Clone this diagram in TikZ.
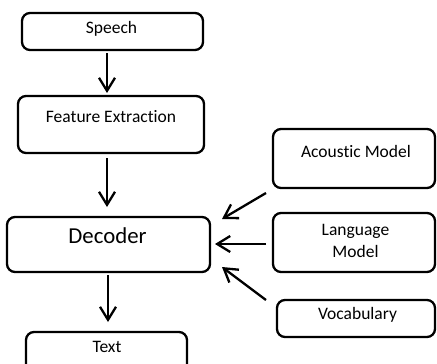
\documentclass[tikz,border=0pt]{standalone}
\usepackage{fontspec}
\setmainfont[Ligatures={NoCommon,NoRare,NoContextual}]{Carlito}
\usetikzlibrary{arrows.meta}
\tikzset{
  box/.style={draw=black, line width=2.3pt, rounded corners=8pt, fill=white, inner sep=0pt},
  lbl/.style={font=\fontsize{17.5}{21}\selectfont, inner sep=0pt, anchor=base},
  big/.style={font=\fontsize{22.8}{26}\selectfont, inner sep=0pt, anchor=base},
  arr/.style={line width=2.3pt, -{Straight Barb[length=13pt,width=16pt,line width=2.3pt]}}
}
\begin{document}
\begin{tikzpicture}[x=1pt,y=-1pt]
\clip (0,0) rectangle (437,364);
\fill[white] (0,0) rectangle (437,364);
% boxes
\node[box, minimum width=181pt, minimum height=37pt] (speech) at (112.5,31.5) {};
\node[box, minimum width=186pt, minimum height=57pt] (feat) at (111,124.5) {};
\node[box, minimum width=203pt, minimum height=55pt] (dec) at (108.5,244.5) {};
\node[box, minimum width=161pt, minimum height=60pt] (text) at (106.5,362) {};
\node[box, minimum width=162pt, minimum height=59pt] (ac) at (354,158.5) {};
\node[box, minimum width=162pt, minimum height=59pt] (lm) at (354,242.5) {};
\node[box, minimum width=158pt, minimum height=37pt] (voc) at (356,318.5) {};
% labels
\node[lbl] (tspeech) at (111.5,33.5) {Speech};
\node[lbl] (tfeat) at (111,122.5) {Feature Extraction};
\node[big] (tdec) at (107.5,243) {Decoder};
\node[lbl] (ttext) at (107,352) {Text};
\node[lbl] (tac) at (356,157.5) {Acoustic Model};
\node[lbl] (tlm1) at (355.5,235) {Language};
\node[lbl] (tlm2) at (355.5,257.5) {Model};
\node[lbl] (tvoc) at (357.5,319.5) {Vocabulary};
% arrow end points
\coordinate (a1s) at (107,53);  \coordinate (a1e) at (107,93);
\coordinate (a2s) at (107,158); \coordinate (a2e) at (107,207);
\coordinate (a3s) at (108,275); \coordinate (a3e) at (108,322);
\coordinate (a4s) at (266,193); \coordinate (a4e) at (222,219);
\coordinate (a5s) at (266,244); \coordinate (a5e) at (215,244);
\coordinate (a6s) at (266,300); \coordinate (a6e) at (222,267);
\draw[arr] (a1s) -- (a1e);
\draw[arr] (a2s) -- (a2e);
\draw[arr] (a3s) -- (a3e);
\draw[arr] (a4s) -- (a4e);
\draw[arr] (a5s) -- (a5e);
\draw[arr] (a6s) -- (a6e);
\end{tikzpicture}
\end{document}
